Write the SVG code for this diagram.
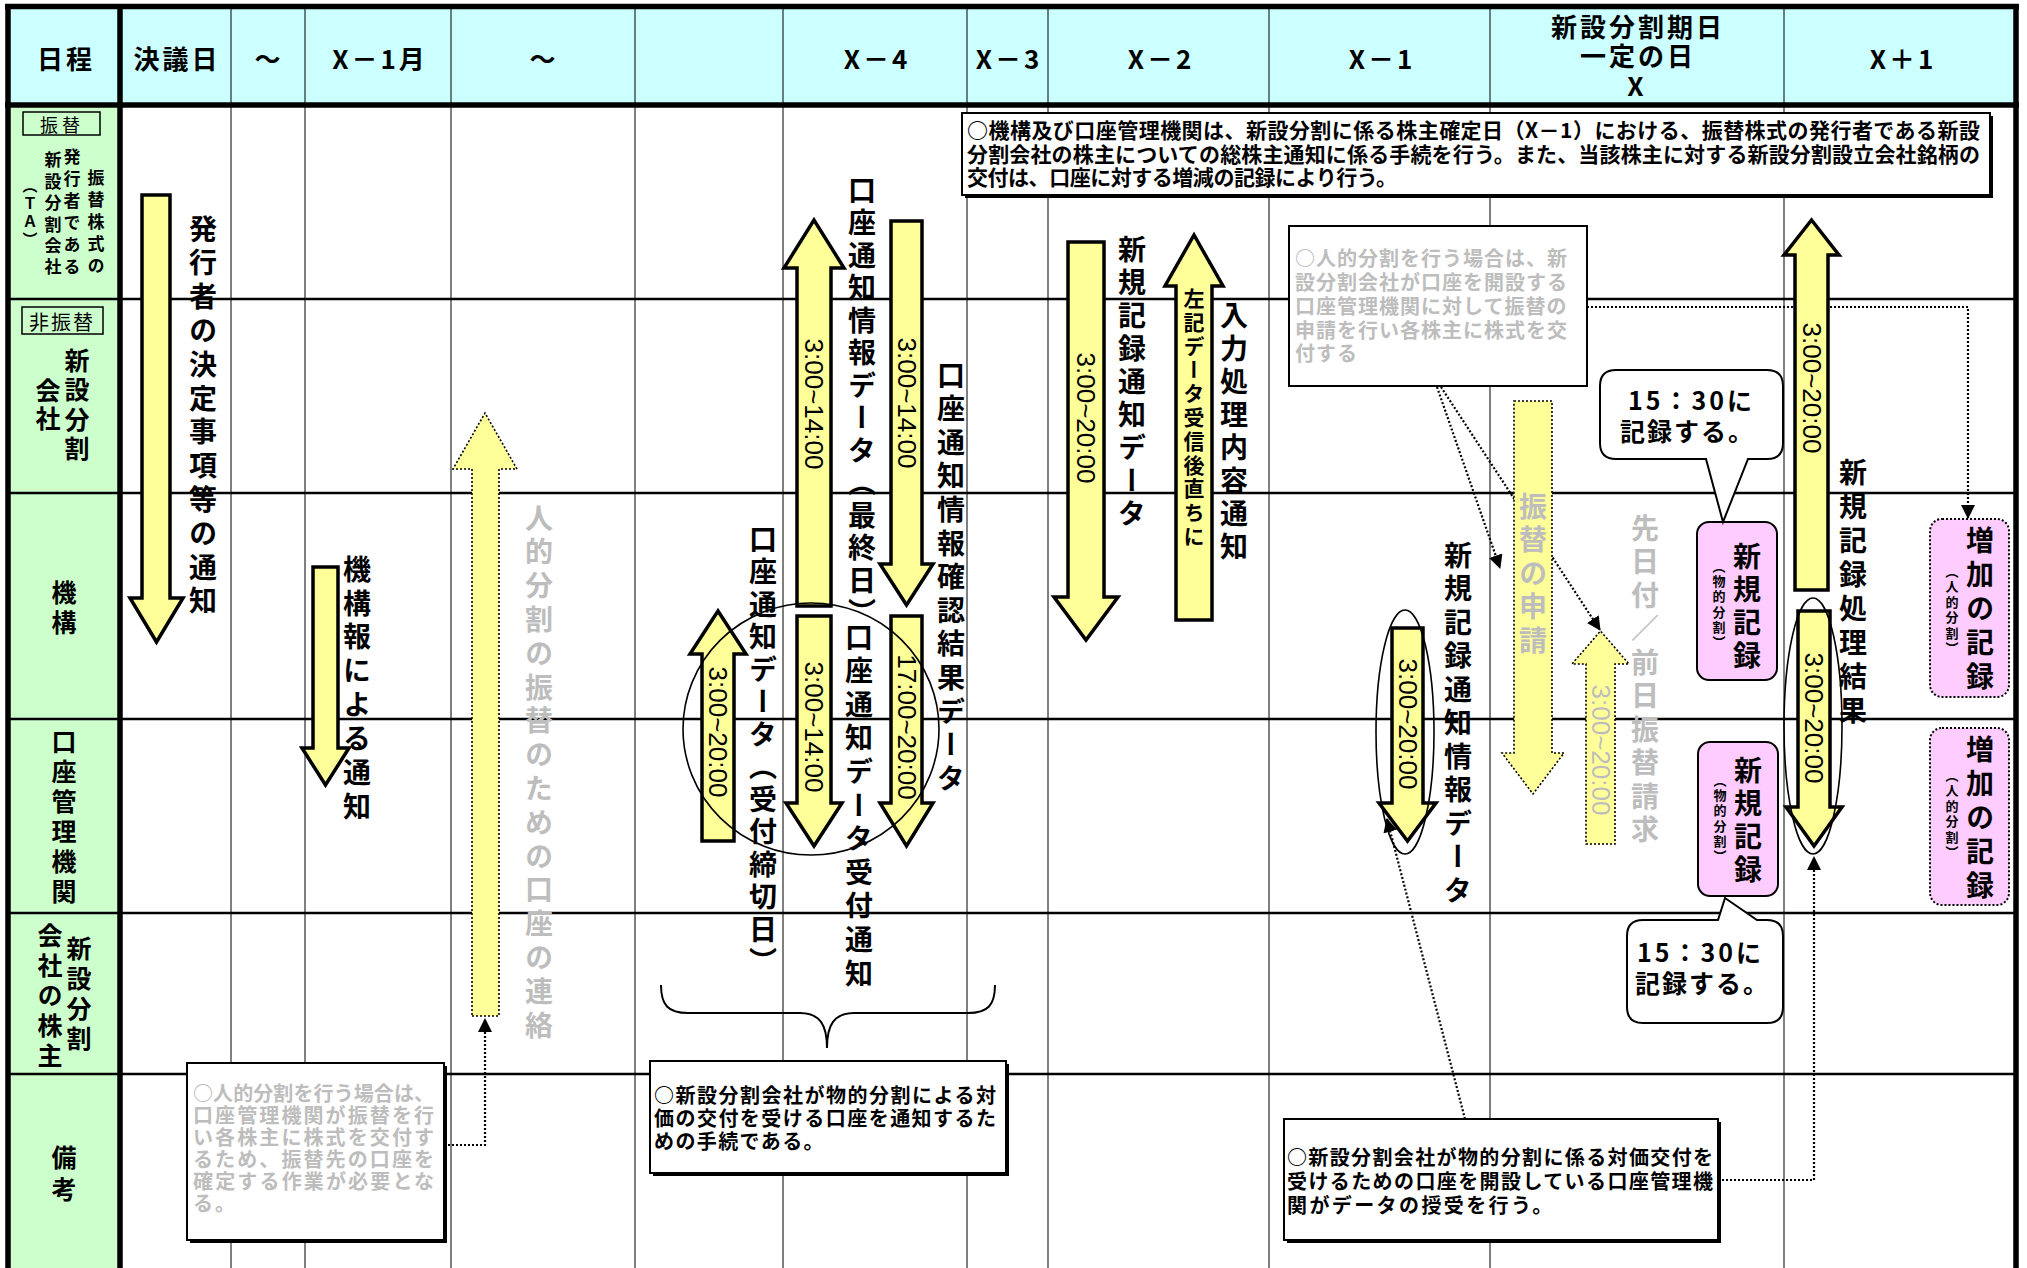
<svg xmlns="http://www.w3.org/2000/svg" width="2027" height="1268" viewBox="0 0 2027 1268">
<defs>
<style>
text { font-family: "Noto Sans CJK JP", "Noto Sans", sans-serif; fill: #000; }
.hd { font-size: 26px; font-weight: bold; text-anchor: middle; dominant-baseline: central; letter-spacing: 3px; }
.v { writing-mode: vertical-rl; font-weight: bold; }
.f28 { font-size: 28px; }
.f25 { font-size: 25px; }
.gry { fill: #BDBDBD; }
.tm { font-family: "Liberation Sans", Arial, sans-serif; font-size: 26px; text-anchor: middle; dominant-baseline: central; }
.nt { font-weight: bold; dominant-baseline: central; }
.arr { fill: #FFFF99; stroke: #000; stroke-width: 3.5; }
.darr { fill: #FFFF99; stroke: #000; stroke-width: 1.6; stroke-dasharray: 2 2; }
.col { stroke: #000; stroke-width: 1; }
.row { stroke: #000; stroke-width: 2.5; }
.bd { stroke: #000; stroke-width: 5.5; }
.box { fill: #fff; stroke: #000; stroke-width: 2; }
.shd { fill: #000; }
.conn { fill: none; stroke: #000; stroke-width: 2.2; stroke-dasharray: 2 2; }
.pk { fill: #FFCCFF; stroke: #000; stroke-width: 2; }
.pkd { fill: #FFCCFF; stroke: #000; stroke-width: 2; stroke-dasharray: 2 2; }
.ell { fill: none; stroke: #000; stroke-width: 1.6; }
.bub { fill: #fff; stroke: #000; stroke-width: 2; }
.lbx { fill: none; stroke: #000; stroke-width: 1.5; }
</style>
<marker id="ah" markerUnits="userSpaceOnUse" markerWidth="14" markerHeight="14" refX="13" refY="7" orient="auto" viewBox="0 0 14 14">
<path d="M0,0 L14,7 L0,14 Z" fill="#000" stroke="none"/>
</marker>
</defs>

<rect x="0" y="0" width="2027" height="1268" fill="#fff"/>

<g id="grid">
<rect x="10" y="7" width="2007" height="98" fill="#CCFFFF"/>
<rect x="10" y="105" width="110" height="1163" fill="#CCFFCC"/>
<line class="col" x1="231" y1="7" x2="231" y2="1268"/>
<line class="col" x1="305" y1="7" x2="305" y2="1268"/>
<line class="col" x1="451" y1="7" x2="451" y2="1268"/>
<line class="col" x1="635" y1="7" x2="635" y2="1268"/>
<line class="col" x1="783" y1="7" x2="783" y2="1268"/>
<line class="col" x1="967" y1="7" x2="967" y2="1268"/>
<line class="col" x1="1048" y1="7" x2="1048" y2="1268"/>
<line class="col" x1="1269" y1="7" x2="1269" y2="1268"/>
<line class="col" x1="1490" y1="7" x2="1490" y2="1268"/>
<line class="col" x1="1784" y1="7" x2="1784" y2="1268"/>
<line class="row" x1="10" y1="299" x2="2017" y2="299"/>
<line class="row" x1="10" y1="493" x2="2017" y2="493"/>
<line class="row" x1="10" y1="719" x2="2017" y2="719"/>
<line class="row" x1="10" y1="913" x2="2017" y2="913"/>
<line class="row" x1="10" y1="1074" x2="2017" y2="1074"/>
<line class="bd" x1="5" y1="6.5" x2="2019" y2="6.5"/>
<line class="bd" x1="5" y1="105" x2="2019" y2="105"/>
<line class="bd" x1="8" y1="4" x2="8" y2="1268"/>
<line class="bd" x1="120" y1="4" x2="120" y2="1268"/>
<line class="bd" x1="2016" y1="4" x2="2016" y2="1268"/>
</g>

<g id="header">
<text class="hd" x="66" y="57">日程</text>
<text class="hd" x="177" y="57">決議日</text>
<text class="hd" x="269" y="57">～</text>
<text class="hd" x="380" y="57" letter-spacing="5">X－1月</text>
<text class="hd" x="544" y="57">～</text>
<text class="hd" x="877" y="57" letter-spacing="5">X－4</text>
<text class="hd" x="1009" y="57" letter-spacing="2">X－3</text>
<text class="hd" x="1161" y="57" letter-spacing="5">X－2</text>
<text class="hd" x="1382" y="57" letter-spacing="5">X－1</text>
<text class="hd" x="1638" y="25" letter-spacing="1">新設分割期日</text>
<text class="hd" x="1638" y="54" letter-spacing="1">一定の日</text>
<text class="hd" x="1637" y="84">X</text>
<text class="hd" x="1903" y="57" letter-spacing="5">X＋1</text>
</g>

<g id="lane-issuer">
<rect class="lbx" x="23" y="112" width="77" height="23"/>
<text x="62" y="124" font-size="18" text-anchor="middle" dominant-baseline="central" letter-spacing="4">振替</text>
<text class="v" x="30" y="177.5" font-size="15" letter-spacing="3">（ＴＡ）</text>
<text class="v" x="53" y="151.5" font-size="17" letter-spacing="4.4">新設分割会社</text>
<text class="v" x="72" y="148.5" font-size="17" letter-spacing="5">発行者である</text>
<text class="v" x="96" y="169.5" font-size="17" letter-spacing="4.8">振替株式の</text>
</g>
<g id="lane-company">
<rect class="lbx" x="22" y="307" width="81" height="27"/>
<text x="62" y="321" font-size="20" text-anchor="middle" dominant-baseline="central" letter-spacing="2">非振替</text>
<text class="v f25" x="77" y="347.5" letter-spacing="4.5">新設分割</text>
<text class="v f25" x="48" y="377.5" letter-spacing="3.5">会社</text>
</g>
<g id="lane-jasdec">
<text class="v f25" x="64" y="579.5" letter-spacing="5">機構</text>
</g>
<g id="lane-account">
<text class="v f25" x="64" y="728.5" letter-spacing="5.2">口座管理機関</text>
</g>
<g id="lane-shareholder">
<text class="v f25" x="79" y="935.5" letter-spacing="5">新設分割</text>
<text class="v f25" x="50" y="922.5" letter-spacing="5">会社の株主</text>
</g>
<g id="lane-remarks">
<text class="v f25" x="64" y="1145" letter-spacing="7">備考</text>
</g>

<g id="note-top">
<rect class="shd" x="965" y="116" width="1028" height="82"/>
<rect class="box" x="962" y="113" width="1028" height="82"/>
<text class="nt" x="967" y="129" font-size="21" textLength="1013" lengthAdjust="spacing">○機構及び口座管理機関は、新設分割に係る株主確定日（X－1）における、振替株式の発行者である新設</text>
<text class="nt" x="967" y="153" font-size="21" textLength="1013" lengthAdjust="spacing">分割会社の株主についての総株主通知に係る手続を行う。また、当該株主に対する新設分割設立会社銘柄の</text>
<text class="nt" x="967" y="176" font-size="21" textLength="430" lengthAdjust="spacing">交付は、口座に対する増減の記録により行う。</text>
</g>

<g id="note-personal-top">
<rect class="box" x="1289" y="226" width="298" height="160"/>
<text class="nt gry" x="1295" y="257" font-size="20" letter-spacing="1">○人的分割を行う場合は、新</text>
<text class="nt gry" x="1295" y="281" font-size="20" letter-spacing="1">設分割会社が口座を開設する</text>
<text class="nt gry" x="1295" y="305" font-size="20" letter-spacing="1">口座管理機関に対して振替の</text>
<text class="nt gry" x="1295" y="329" font-size="20" letter-spacing="1">申請を行い各株主に株式を交</text>
<text class="nt gry" x="1295" y="352" font-size="20" letter-spacing="1">付する</text>
</g>

<g id="note-personal-bottom">
<rect class="shd" x="190" y="1066" width="257" height="177"/>
<rect class="box" x="187" y="1063" width="257" height="177"/>
<text class="nt gry" x="193" y="1092" font-size="20" textLength="241" lengthAdjust="spacing">○人的分割を行う場合は、</text>
<text class="nt gry" x="193" y="1114" font-size="20" textLength="241" lengthAdjust="spacing">口座管理機関が振替を行</text>
<text class="nt gry" x="193" y="1136" font-size="20" textLength="241" lengthAdjust="spacing">い各株主に株式を交付す</text>
<text class="nt gry" x="193" y="1158" font-size="20" textLength="241" lengthAdjust="spacing">るため、振替先の口座を</text>
<text class="nt gry" x="193" y="1180" font-size="20" textLength="241" lengthAdjust="spacing">確定する作業が必要とな</text>
<text class="nt gry" x="193" y="1202" font-size="20" letter-spacing="2">る。</text>
</g>

<g id="note-physical">
<rect class="shd" x="653" y="1064" width="356" height="112"/>
<rect class="box" x="650" y="1061" width="356" height="112"/>
<text class="nt" x="654" y="1094" font-size="20" textLength="342" lengthAdjust="spacing">○新設分割会社が物的分割による対</text>
<text class="nt" x="654" y="1117" font-size="20" textLength="342" lengthAdjust="spacing">価の交付を受ける口座を通知するた</text>
<text class="nt" x="654" y="1140" font-size="20" letter-spacing="1.4">めの手続である。</text>
</g>

<g id="note-account">
<rect class="shd" x="1287" y="1122" width="434" height="121"/>
<rect class="box" x="1284" y="1119" width="434" height="121"/>
<text class="nt" x="1287" y="1156" font-size="20" textLength="426" lengthAdjust="spacing">○新設分割会社が物的分割に係る対価交付を</text>
<text class="nt" x="1287" y="1180" font-size="20" textLength="426" lengthAdjust="spacing">受けるための口座を開設している口座管理機</text>
<text class="nt" x="1287" y="1204" font-size="20" letter-spacing="2.4">関がデータの授受を行う。</text>
</g>

<g id="brace">
<path d="M661,985 C661,1005 668,1013 688,1013 L800,1013 C820,1013 827,1025 827,1048 C827,1025 834,1013 854,1013 L968,1013 C988,1013 995,1005 995,985" fill="none" stroke="#000" stroke-width="2"/>
</g>

<g id="connectors">
<path class="conn" d="M444,1145 H485 V1019" marker-end="url(#ah)"/>
<path class="conn" d="M1437,387 L1500,568" marker-end="url(#ah)"/>
<path class="conn" d="M1441,387 L1600,630" marker-end="url(#ah)"/>
<path class="conn" d="M1587,307 H1793 M1830,307 H1968 V518" marker-end="url(#ah)"/>
<path class="conn" d="M1465,1119 L1387,819" marker-end="url(#ah)"/>
<path class="conn" d="M1718,1180 H1814 V857" marker-end="url(#ah)"/>
</g>

<g id="arrow-decision">
<polygon class="arr" points="142,195 170,195 170,598 183,598 156.5,642 130,598 142,598"/>
<text class="v f28" x="203" y="215" letter-spacing="5.8">発行者の決定事項等の通知</text>
</g>

<g id="arrow-jasdec-notice">
<polygon class="arr" points="313,567 338,567 338,748 349,748 325.5,785 302,748 313,748"/>
<text class="v f28" x="357" y="555" letter-spacing="5.9">機構報による通知</text>
</g>

<g id="arrow-personal-contact">
<polygon class="darr" points="472,1016 499,1016 499,469 517,469 485,413 453,469 472,469"/>
<text class="v f28 gry" x="539" y="504" letter-spacing="5.8">人的分割の振替のための口座の連絡</text>
</g>

<g id="arrow-x4-up">
<polygon class="arr" points="797,606 831,606 831,268 844,268 814,220 784,268 797,268"/>
<text class="tm" transform="translate(814,404) rotate(90)">3:00~14:00</text>
</g>
<g id="arrow-x4-down">
<polygon class="arr" points="891,221 922,221 922,564 933,564 906.5,605 880,564 891,564"/>
<text class="tm" transform="translate(907,403) rotate(90)">3:00~14:00</text>
</g>
<g id="arrow-x4-down2">
<polygon class="arr" points="797,616 831,616 831,803 842,803 814,846 786,803 797,803"/>
<text class="tm" transform="translate(814,727) rotate(90)">3:00~14:00</text>
</g>
<g id="arrow-x4-down3">
<polygon class="arr" points="891,616 922,616 922,803 933,803 906.5,846 880,803 891,803"/>
<text class="tm" transform="translate(907,727) rotate(90)">17:00~20:00</text>
</g>
<g id="arrow-x5-up">
<polygon class="arr" points="702,841 734,841 734,654 746,654 718,611 690,654 702,654"/>
<text class="tm" transform="translate(718,732) rotate(90)">3:00~20:00</text>
</g>
<g id="label-x4">
<text class="v f28" x="862" y="176" letter-spacing="4.5">口座通知情報データ（最終日）</text>
<text class="v f28" x="951" y="361" letter-spacing="5.6">口座通知情報確認結果データ</text>
<text class="v f28" x="763" y="525" letter-spacing="4.5">口座通知データ（受付締切日）</text>
<text class="v f28" x="859" y="623" letter-spacing="5.6">口座通知データ受付通知</text>
<ellipse class="ell" cx="811" cy="729" rx="128" ry="126"/>
</g>

<g id="arrow-x2-down">
<polygon class="arr" points="1068,242 1104,242 1104,597 1118,597 1086,640 1054,597 1068,597"/>
<text class="tm" transform="translate(1086,418) rotate(90)">3:00~20:00</text>
<text class="v f28" x="1132" y="235" letter-spacing="5">新規記録通知データ</text>
</g>
<g id="arrow-x2-up">
<polygon class="arr" points="1176,620 1212,620 1212,286 1223,286 1194,235 1165,286 1176,286"/>
<text class="v" x="1194" y="287.5" font-size="21" letter-spacing="2.8">左記データ受信後直ちに</text>
<text class="v f28" x="1234" y="301" letter-spacing="5">入力処理内容通知</text>
</g>

<g id="arrow-x1-down">
<polygon class="arr" points="1392,628 1423,628 1423,803 1436,803 1407.5,841 1379,803 1392,803"/>
<text class="tm" transform="translate(1408,724) rotate(90)">3:00~20:00</text>
<ellipse class="ell" cx="1405" cy="732" rx="29" ry="122"/>
<text class="v f28" x="1458" y="541" letter-spacing="5.5">新規記録通知情報データ</text>
</g>

<g id="arrow-transfer-request">
<polygon class="darr" points="1514,401 1552,401 1552,753 1564,753 1533,794 1502,753 1514,753"/>
<text class="v f28 gry" x="1533" y="492" letter-spacing="5.5">振替の申請</text>
</g>
<g id="arrow-prior-transfer">
<polygon class="darr" points="1586,844 1615,844 1615,664 1629,664 1600.5,631 1572,664 1586,664"/>
<text class="tm gry" transform="translate(1601,750) rotate(90)">3:00~20:00</text>
<text class="v f28 gry" x="1645" y="514" letter-spacing="5.5">先日付／前日振替請求</text>
</g>

<g id="record-physical-1">
<rect class="pk" x="1697" y="522" width="80" height="158" rx="12"/>
<text class="v f28" x="1747" y="542" letter-spacing="5">新規記録</text>
<text class="v" x="1719" y="559.5" font-size="13" letter-spacing="2.2">（物的分割）</text>
</g>
<g id="record-physical-2">
<rect class="pk" x="1698" y="742" width="80" height="154" rx="12"/>
<text class="v f28" x="1748" y="756" letter-spacing="5">新規記録</text>
<text class="v" x="1720" y="773.5" font-size="13" letter-spacing="2.2">（物的分割）</text>
</g>
<g id="callout-1">
<path class="bub" d="M1616,370 H1767 Q1783,370 1783,386 V443 Q1783,459 1767,459 H1748 L1723,522 L1706,459 H1616 Q1600,459 1600,443 V386 Q1600,370 1616,370 Z"/>
<text class="nt" x="1628" y="399" font-size="25" letter-spacing="3">15：30に</text>
<text class="nt" x="1620" y="430" font-size="25" letter-spacing="2">記録する。</text>
</g>
<g id="callout-2">
<path class="bub" d="M1643,920 H1718 L1725,898 L1757,920 H1767 Q1783,920 1783,936 V1007 Q1783,1023 1767,1023 H1643 Q1627,1023 1627,1007 V936 Q1627,920 1643,920 Z"/>
<text class="nt" x="1637" y="951" font-size="25" letter-spacing="3">15：30に</text>
<text class="nt" x="1635" y="982" font-size="25" letter-spacing="2">記録する。</text>
</g>

<g id="arrow-xp1-up">
<polygon class="arr" points="1795,590 1828,590 1828,255 1839,255 1811.5,220 1784,255 1795,255"/>
<text class="tm" transform="translate(1812,388) rotate(90)">3:00~20:00</text>
</g>
<g id="arrow-xp1-down">
<polygon class="arr" points="1798,611 1830,611 1830,807 1842,807 1814,846 1786,807 1798,807"/>
<text class="tm" transform="translate(1814,718) rotate(90)">3:00~20:00</text>
<ellipse class="ell" cx="1813" cy="726" rx="29" ry="128"/>
<text class="v f28" x="1853" y="458" letter-spacing="6">新規記録処理結果</text>
</g>
<g id="record-personal-1">
<rect class="pkd" x="1930" y="519" width="79" height="178" rx="12"/>
<text class="v f28" x="1980" y="526" letter-spacing="6">増加の記録</text>
<text class="v" x="1952" y="564.5" font-size="13" letter-spacing="2.5">（人的分割）</text>
</g>
<g id="record-personal-2">
<rect class="pkd" x="1930" y="728" width="79" height="177" rx="12"/>
<text class="v f28" x="1980" y="735" letter-spacing="6">増加の記録</text>
<text class="v" x="1952" y="768.5" font-size="13" letter-spacing="2.5">（人的分割）</text>
</g>
</svg>
